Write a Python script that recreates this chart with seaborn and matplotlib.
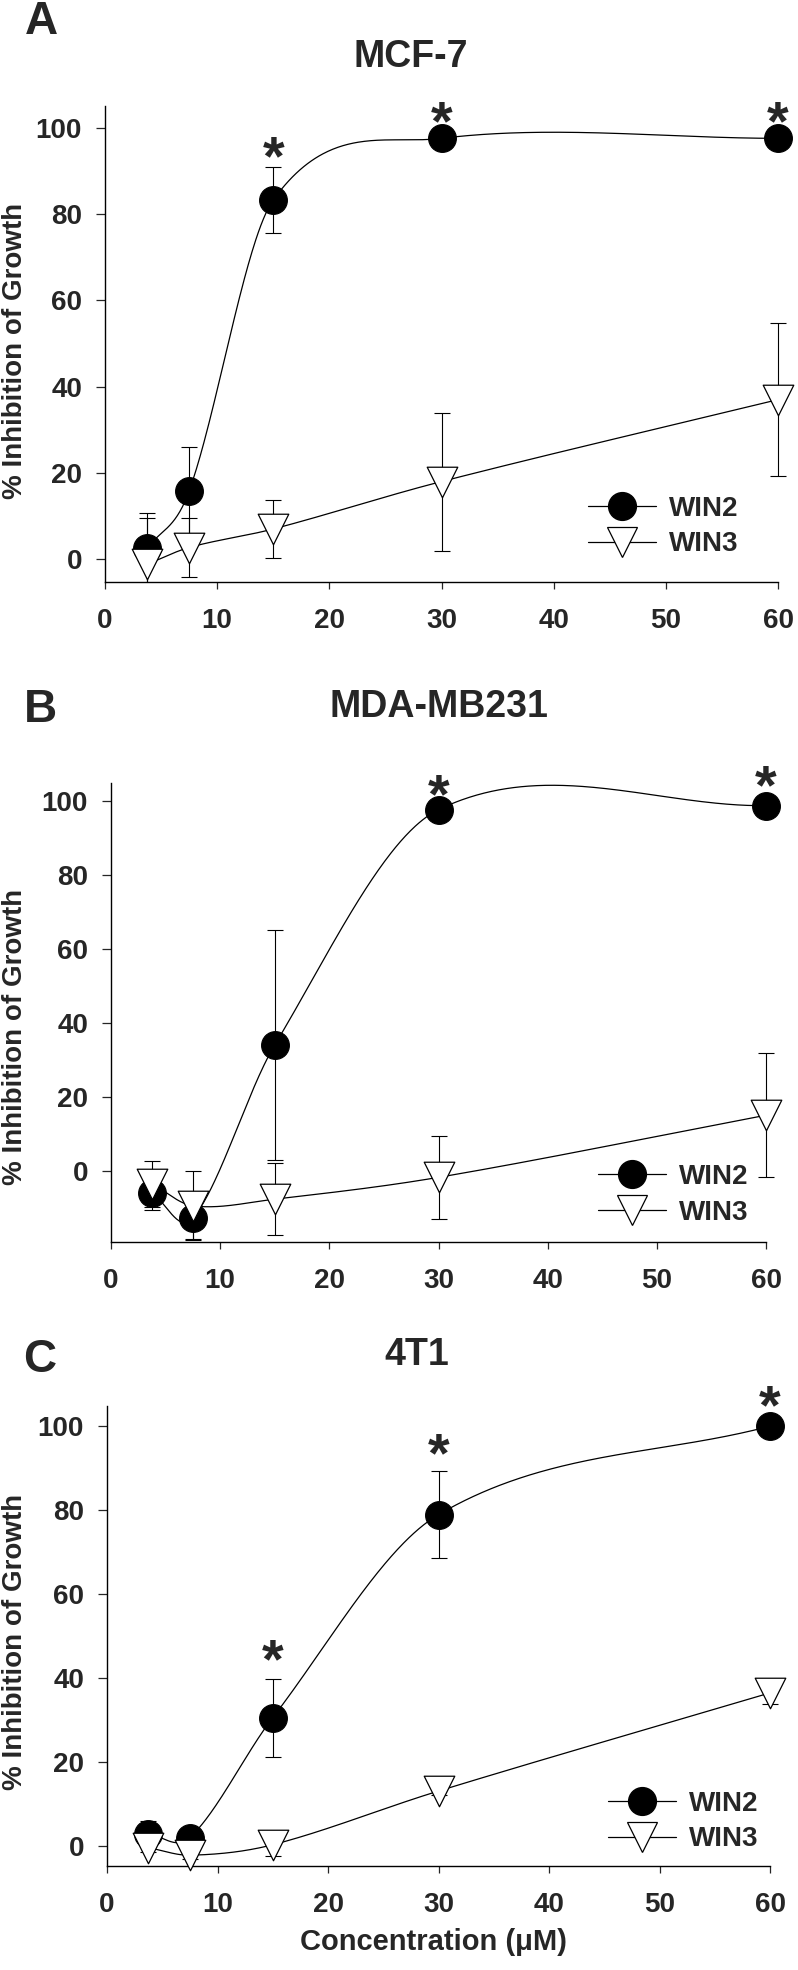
# Growth inhibition by WIN2 / WIN3 in three breast cancer cell lines
import numpy as np
import matplotlib
matplotlib.use("Agg")
import matplotlib.pyplot as plt
from matplotlib.lines import Line2D
import seaborn as sns

# --------------------------------------------------
# Data
# --------------------------------------------------
conc = [3.75, 7.5, 15, 30, 60]

mcf7_win2 = [2.5, 15.8, 83.3, 97.6, 97.6]
mcf7_win2_err = [8.3, 10.1, 7.6, 0.8, 0.8]
mcf7_win3 = [-1.2, 2.7, 7.0, 18.0, 37.0]
mcf7_win3_err = [10.8, 6.9, 6.8, 16.0, 17.7]
mcf7_star_x = [15, 30, 60]
mcf7_star_y = [96.5, 104.8, 104.8]

mb231_win2 = [-6.0, -12.9, 34.0, 97.6, 98.7]
mb231_win2_err = [4.6, 5.7, 31.0, 0.8, 0.8]
mb231_win3 = [-3.5, -9.5, -7.7, -1.8, 15.0]
mb231_win3_err = [6.2, 9.3, 9.8, 11.3, 16.7]
mb231_star_x = [30, 60]
mb231_star_y = [105.6, 107.9]

t1_win2 = [2.75, 1.9, 30.5, 78.9, 100.0]
t1_win2_err = [3.0, 1.0, 9.3, 10.4, 0.5]
t1_win3 = [-0.5, -2.3, 0.2, 13.0, 36.4]
t1_win3_err = [1.0, 1.0, 2.6, 1.0, 2.7]
t1_star_x = [15, 30, 60]
t1_star_y = [47.6, 96.8, 108.3]

# --------------------------------------------------
# Style
# --------------------------------------------------
sns.set_style("ticks")
plt.rcParams["font.family"] = ["Liberation Sans", "DejaVu Sans"]
plt.rcParams["font.weight"] = "bold"
plt.rcParams["axes.linewidth"] = 1.0

W, H = 798, 1970
XPAD = 0.8  # a little room right of 60 so the last error caps are not cut


def fx(px):
    return px / W


def fy(py):
    return 1 - py / H


def smooth(x, y, xs):
    # cubic Hermite curve through the points (finite-difference slopes)
    x = np.asarray(x, float)
    y = np.asarray(y, float)
    n = len(x)
    t = np.empty(n)
    t[1:-1] = (y[2:] - y[:-2]) / (x[2:] - x[:-2])
    t[0] = (y[1] - y[0]) / (x[1] - x[0])
    t[-1] = (y[-1] - y[-2]) / (x[-1] - x[-2])
    idx = np.clip(np.searchsorted(x, xs) - 1, 0, n - 2)
    h = x[idx + 1] - x[idx]
    s = (xs - x[idx]) / h
    h00 = 2 * s**3 - 3 * s**2 + 1
    h10 = s**3 - 2 * s**2 + s
    h01 = -2 * s**3 + 3 * s**2
    h11 = s**3 - s**2
    return h00 * y[idx] + h10 * h * t[idx] + h01 * y[idx + 1] + h11 * h * t[idx + 1]


def rect(x0, x60, top, bottom):
    right = x60 + XPAD * (x60 - x0) / 60
    return [fx(x0), fy(bottom), fx(right) - fx(x0), fy(top) - fy(bottom)]


panels = [
    dict(rect=rect(105, 778, 106, 582), ylim=(-5.3, 105.1),
         w2=mcf7_win2, w2e=mcf7_win2_err, w3=mcf7_win3, w3e=mcf7_win3_err,
         sx=mcf7_star_x, sy=mcf7_star_y,
         title="MCF-7", tpos=(411, 57), letter="A", lpos=(41, 22),
         ylab_y=351, leg=(588, 526.5), xlabel=False),
    dict(rect=rect(111, 766, 782.7, 1241.7), ylim=(-19.2, 104.9),
         w2=mb231_win2, w2e=mb231_win2_err, w3=mb231_win3, w3e=mb231_win3_err,
         sx=mb231_star_x, sy=mb231_star_y,
         title="MDA-MB231", tpos=(439, 707), letter="B", lpos=(40, 710),
         ylab_y=1037, leg=(598, 1195), xlabel=False),
    dict(rect=rect(107, 770, 1406, 1865.7), ylim=(-4.8, 104.8),
         w2=t1_win2, w2e=t1_win2_err, w3=t1_win3, w3e=t1_win3_err,
         sx=t1_star_x, sy=t1_star_y,
         title="4T1", tpos=(417, 1355), letter="C", lpos=(40, 1360),
         ylab_y=1642, leg=(608, 1821.4), xlabel=True),
]

fig = plt.figure(figsize=(W / 100, H / 100), dpi=100)
xs = np.linspace(conc[0], conc[-1], 500)

for p in panels:
    ax = fig.add_axes(p["rect"])

    # WIN2
    ax.errorbar(conc, p["w2"], yerr=p["w2e"], fmt="none", ecolor="black",
                elinewidth=0.8, capsize=6, capthick=0.8, zorder=2)
    sns.lineplot(x=xs, y=smooth(conc, p["w2"], xs), color="black", lw=0.9,
                 ax=ax, zorder=3)
    sns.scatterplot(x=conc, y=p["w2"], marker="o", s=400, color="black",
                    edgecolor="black", linewidth=0.8, ax=ax, zorder=4, clip_on=False)

    # WIN3
    ax.errorbar(conc, p["w3"], yerr=p["w3e"], fmt="none", ecolor="black",
                elinewidth=0.8, capsize=6, capthick=0.8, zorder=5)
    sns.lineplot(x=xs, y=smooth(conc, p["w3"], xs), color="black", lw=0.9,
                 ax=ax, zorder=6)
    sns.scatterplot(x=conc, y=p["w3"], marker="v", s=484, color="white",
                    edgecolor="black", linewidth=0.9, ax=ax, zorder=7, clip_on=False)

    # significance stars
    for x, y in zip(p["sx"], p["sy"]):
        ax.annotate("*", (x, y), xytext=(0, -0.57 * 40), textcoords="offset points",
                    ha="center", va="baseline", fontsize=40, fontweight="bold",
                    annotation_clip=False)

    ax.set_xlim(0, 60 + XPAD)
    ax.set_ylim(*p["ylim"])
    ax.set_xticks(range(0, 61, 10))
    ax.set_yticks(range(0, 101, 20))
    ax.tick_params(axis="x", length=5, width=0.9, labelsize=20, pad=14)
    ax.tick_params(axis="y", length=6.5, width=0.9, labelsize=20, pad=10)
    for lab in ax.get_xticklabels() + ax.get_yticklabels():
        lab.set_fontweight("bold")
    ax.set_xlabel("")
    ax.set_ylabel("")
    sns.despine(ax=ax)
    ax.spines["bottom"].set_bounds(0, 60)
    for sp in ax.spines.values():
        sp.set_color("black")

    handles = [
        Line2D([0], [0], color="black", lw=0.9, marker="o", ms=20,
               mfc="black", mec="black"),
        Line2D([0], [0], color="black", lw=0.9, marker="v", ms=22,
               mfc="white", mec="black", mew=0.9),
    ]
    lx = (p["leg"][0] / W - p["rect"][0]) / p["rect"][2]
    ly = (fy(p["leg"][1]) - p["rect"][1]) / p["rect"][3]
    ax.legend(handles, ["WIN2", "WIN3"], loc="center left",
              bbox_to_anchor=(lx, ly), frameon=False, borderpad=0,
              borderaxespad=0, handlelength=2.45, handletextpad=0.45,
              labelspacing=0.35, prop=dict(size=20, weight="bold"))

    fig.text(fx(p["tpos"][0]), fy(p["tpos"][1]), p["title"], ha="center",
             va="center", fontsize=27, fontweight="bold")
    fig.text(fx(p["lpos"][0]), fy(p["lpos"][1]), p["letter"], ha="center",
             va="center", fontsize=33, fontweight="bold")
    fig.text(fx(15), fy(p["ylab_y"]), "% Inhibition of Growth", rotation=90,
             ha="center", va="center", fontsize=20, fontweight="bold")
    if p["xlabel"]:
        fig.text(fx(433), fy(1942), "Concentration (\u03bcM)", ha="center",
                 va="center", fontsize=21, fontweight="bold")

fig.savefig("out.png", dpi=100)
